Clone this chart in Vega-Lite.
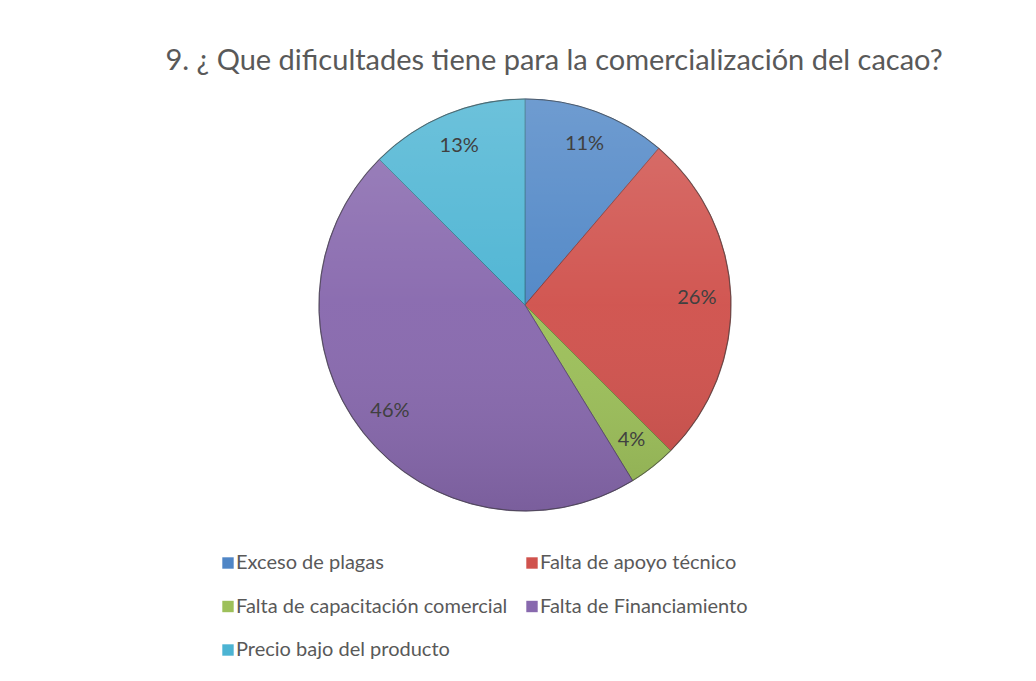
{
  "$schema": "https://vega.github.io/schema/vega-lite/v6.json",
  "width": 1020,
  "height": 430,
  "padding": {"left": 15, "top": 47, "right": 0, "bottom": 0},
  "background": "#ffffff",
  "title": {
    "text": "9. ¿ Que dificultades tiene para la comercialización del cacao?",
    "font": "Lato",
    "fontSize": 29,
    "fontWeight": "normal",
    "color": "#595959",
    "anchor": "middle",
    "dx": 29,
    "offset": 14
  },
  "data": {
    "values": [
      {"categoria": "Exceso de plagas", "orden": 1, "n": 9, "etiqueta": "11%"},
      {"categoria": "Falta de apoyo técnico", "orden": 2, "n": 21, "etiqueta": "26%"},
      {"categoria": "Falta de capacitación comercial", "orden": 3, "n": 3, "etiqueta": "4%"},
      {"categoria": "Falta de Financiamiento", "orden": 4, "n": 37, "etiqueta": "46%"},
      {"categoria": "Precio bajo del producto", "orden": 5, "n": 10, "etiqueta": "13%"}
    ]
  },
  "layer": [
    {
      "mark": {"type": "arc", "outerRadius": 206, "strokeWidth": 1},
      "encoding": {
        "theta": {"field": "n", "type": "quantitative", "stack": true},
        "order": {"field": "orden", "type": "quantitative", "sort": "ascending"},
        "color": {
          "field": "categoria",
          "type": "nominal",
          "scale": {
            "domain": ["Exceso de plagas", "Falta de capacitación comercial", "Precio bajo del producto", "Falta de apoyo técnico", "Falta de Financiamiento"],
            "range": ["#4F86C6", "#9DC05A", "#4CB4D3", "#D0524D", "#8869AE"]
          },
          "legend": {
            "title": null,
            "orient": "none",
            "legendX": 203,
            "legendY": 463,
            "columns": 2,
            "symbolType": "square",
            "symbolSize": 130,
            "symbolStrokeWidth": 0,
            "labelFont": "Lato",
            "labelFontSize": 20,
            "labelColor": "#595959",
            "rowPadding": 23.5,
            "columnPadding": 14,
            "labelOffset": -2,
            "labelLimit": 400
          }
        },
        "stroke": {
          "field": "categoria",
          "type": "nominal",
          "scale": {
            "domain": ["Exceso de plagas", "Falta de capacitación comercial", "Precio bajo del producto", "Falta de apoyo técnico", "Falta de Financiamiento"],
            "range": ["#385D8A", "#71893F", "#357D91", "#8C3836", "#5C4776"]
          },
          "legend": null
        }
      }
    },
    {
      "transform": [{"aggregate": [{"op": "sum", "field": "n", "as": "total"}]}],
      "mark": {
        "type": "arc",
        "outerRadius": 206,
        "fill": {
          "gradient": "linear",
          "x1": 0, "y1": 0, "x2": 0, "y2": 1,
          "stops": [
            {"offset": 0, "color": "rgba(255,255,255,0.18)"},
            {"offset": 0.5, "color": "rgba(255,255,255,0.03)"},
            {"offset": 1, "color": "rgba(0,0,0,0.10)"}
          ]
        },
        "stroke": "#4a4a4a",
        "strokeOpacity": 0.5,
        "strokeWidth": 1.2
      },
      "encoding": {}
    },
    {
      "mark": {"type": "text", "radius": 172, "font": "Lato", "fontSize": 20, "color": "#404040"},
      "encoding": {
        "theta": {"field": "n", "type": "quantitative", "stack": true},
        "order": {"field": "orden", "type": "quantitative", "sort": "ascending"},
        "text": {"field": "etiqueta", "type": "nominal"}
      }
    }
  ],
  "config": {"view": {"stroke": null}}
}
